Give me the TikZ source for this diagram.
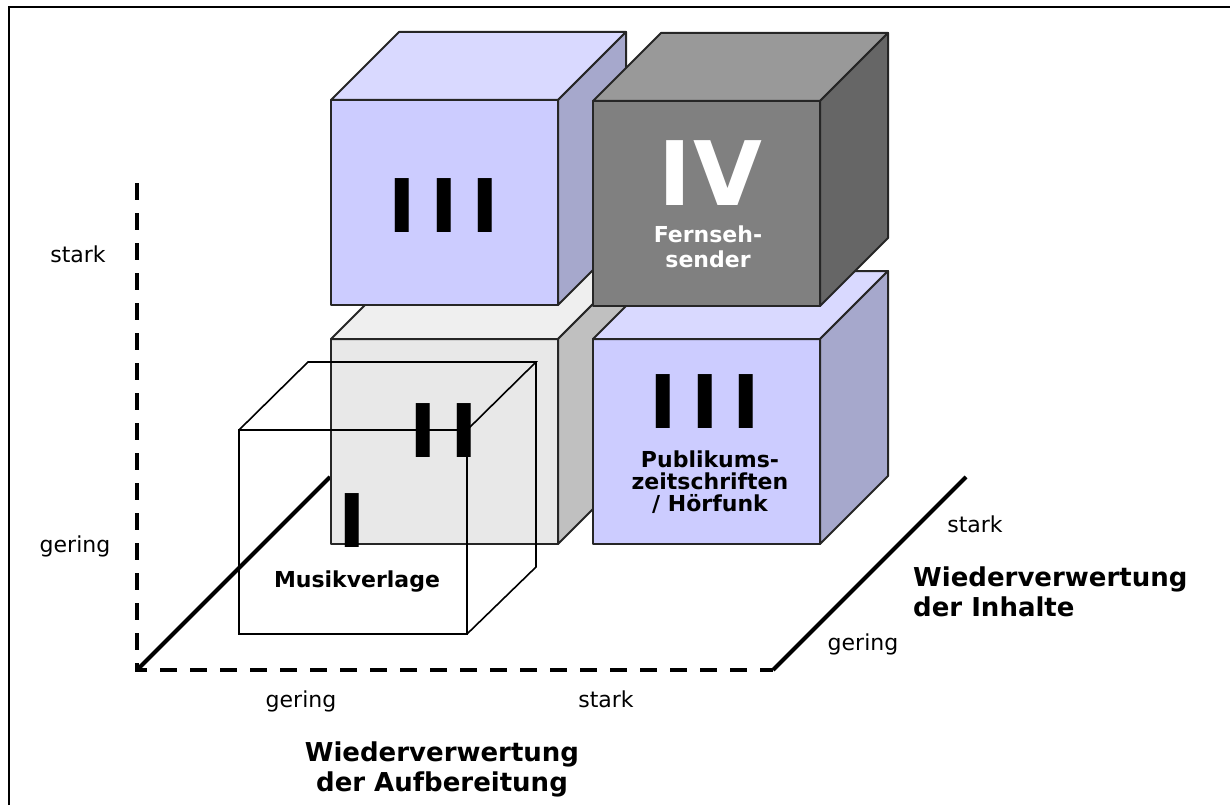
\documentclass[tikz,border=0pt]{standalone}
\usepackage{fontspec}
\setmainfont{DejaVu Sans}
\definecolor{blueFront}{HTML}{CCCCFF}
\definecolor{blueTop}{HTML}{D9D9FF}
\definecolor{blueSide}{HTML}{A6A8CC}
\definecolor{darkFront}{HTML}{808080}
\definecolor{darkTop}{HTML}{999999}
\definecolor{darkSide}{HTML}{666666}
\definecolor{greyFront}{HTML}{E8E8E8}
\definecolor{greyTop}{HTML}{EFEFEF}
\definecolor{greySide}{HTML}{C0C0C0}

\begin{document}
\begin{tikzpicture}[x=1pt,y=-1pt,
	face/.style={draw=black!85,line width=2pt,line join=round},
	wire/.style={draw=black,line width=1.6pt},
	axisline/.style={line width=4pt},
	dashaxis/.style={line width=4.5pt,dash pattern=on 17pt off 13pt},
	lbl/.style={font=\fontsize{22}{22}\selectfont,inner sep=0pt,anchor=base},
	tag/.style={font=\fontsize{22}{23}\selectfont\bfseries,inner sep=0pt,align=center,anchor=north},
	numeral/.style={font=\fontsize{74}{74}\selectfont\bfseries,inner sep=0pt,anchor=base},
	title/.style={font=\fontsize{26}{30}\selectfont\bfseries,inner sep=0pt}]
	\useasboundingbox (0,0) rectangle (1230,805);
	\draw[line width=2.5pt] (9,805) -- (9,7) -- (1230,7);

	\coordinate (origin) at (137,670);
	\coordinate (vtop) at (137,183);
	\coordinate (hend) at (773,670);
	\coordinate (dback) at (330,477);
	\coordinate (dfar) at (966,477);
	\draw[dashaxis] (vtop) -- (origin) -- (hend);
	\draw[axisline] (origin) -- (dback);
	\draw[axisline] (hend) -- (dfar);

	\foreach \px/\py/\col in {331/339/grey,593/339/blue,331/100/blue,593/101/dark}{
		\begin{scope}[shift={(\px,\py)}]
			\filldraw[face,fill=\col Front] (0,0) rectangle (227,205);
			\filldraw[face,fill=\col Top] (0,0) -- (68,-68) -- (295,-68) -- (227,0) -- cycle;
			\filldraw[face,fill=\col Side] (227,0) -- (295,-68) -- (295,137) -- (227,205) -- cycle;
		\end{scope}
	}

	\begin{scope}[shift={(239,430)}]
		\draw[wire] (0,0) rectangle (228,204);
		\draw[wire] (0,0) -- (69,-68) -- (297,-68) -- (228,0);
		\draw[wire] (297,-68) -- (297,137) -- (228,204);
	\end{scope}

	\node[numeral] (romanA) at (444,232) {I\hspace{14pt}I\hspace{14pt}I};
	\node[numeral,font=\fontsize{89}{89}\selectfont\bfseries,text=white] (romanB) at (710,205) {I\hspace{2pt}V};
	\node[numeral] (romanC) at (444,457) {I\hspace{14pt}I};
	\node[numeral] (romanD) at (705,428) {I\hspace{14pt}I\hspace{14pt}I};
	\node[numeral] (romanE) at (352,547) {I};

	\node[tag,text=white,font=\fontsize{22}{25}\selectfont\bfseries] (tv) at (708,226) {Fernseh-\\sender};
	\node[tag,font=\fontsize{22}{22}\selectfont\bfseries] (press) at (710,451) {Publikums-\\zeitschriften\\/ Hörfunk};
	\node[lbl,font=\fontsize{22}{22}\selectfont\bfseries] (music) at (357,587) {Musikverlage};

	\node[lbl] (vstrong) at (78,262) {stark};
	\node[lbl] (vweak) at (75,552) {gering};
	\node[lbl] (hweak) at (301,707) {gering};
	\node[lbl] (hstrong) at (606,707) {stark};
	\node[lbl] (dstrong) at (975,532) {stark};
	\node[lbl] (dweak) at (863,650) {gering};

	\node[title,align=left,anchor=north west] (content) at (913,567) {Wiederverwertung\\der Inhalte};
	\node[title,align=center,anchor=north] (layout) at (442,742) {Wiederverwertung\\der Aufbereitung};
\end{tikzpicture}
\end{document}
